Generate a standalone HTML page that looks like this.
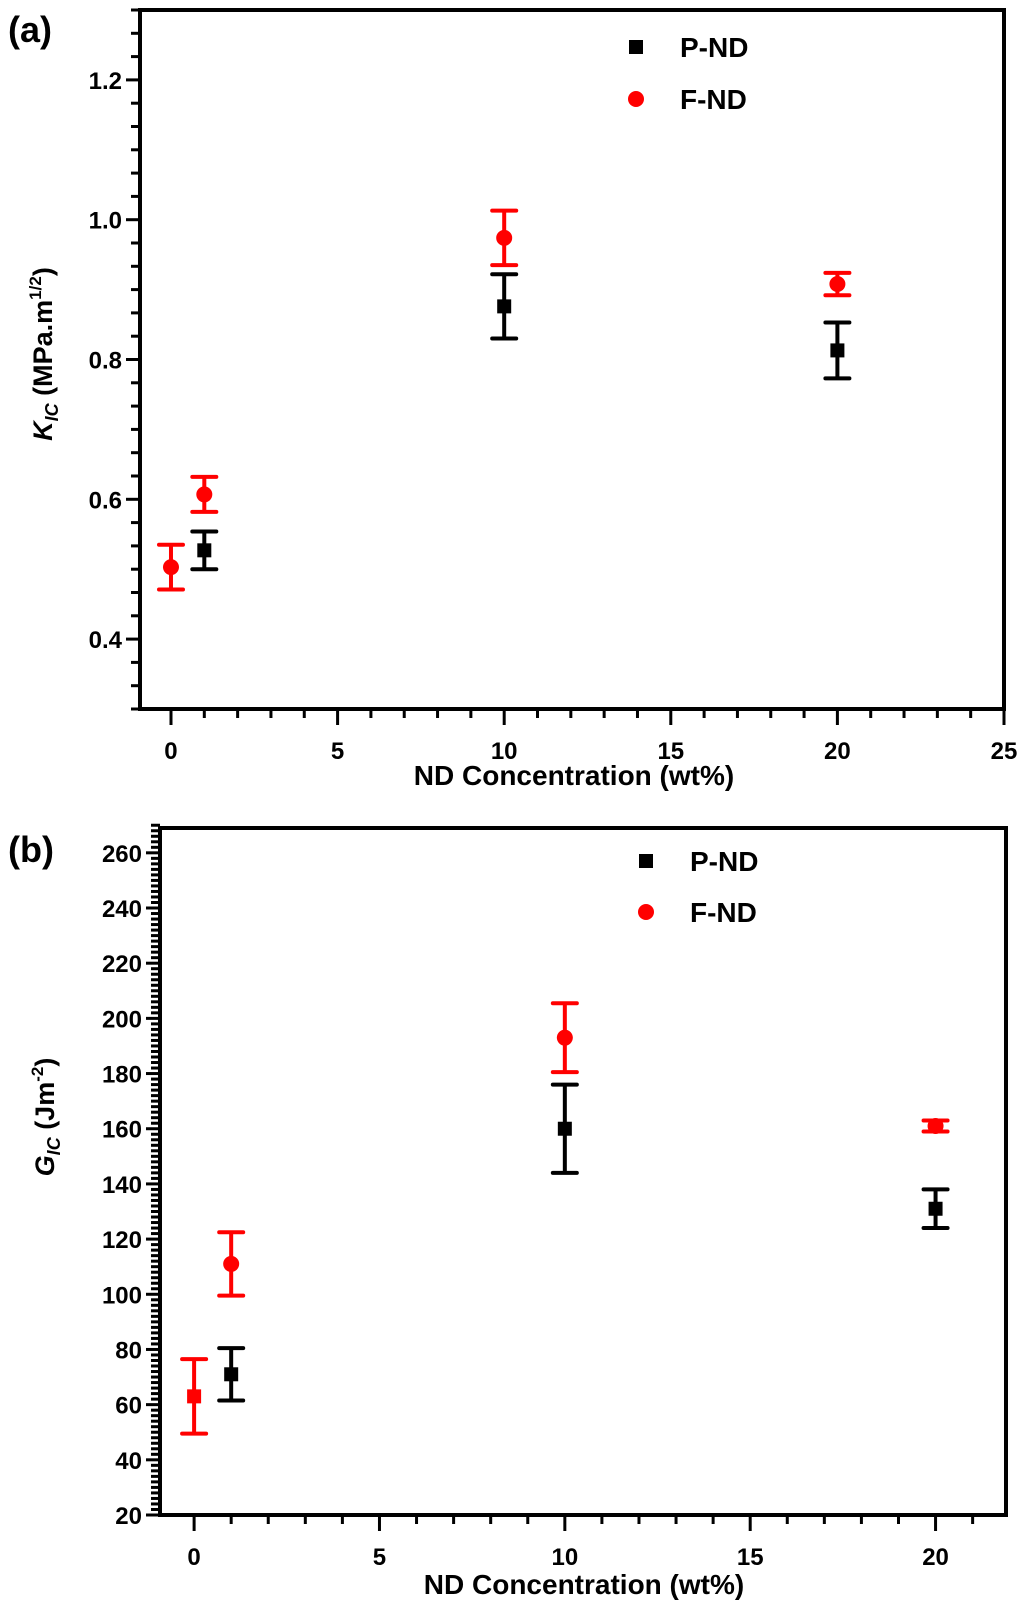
<!DOCTYPE html>
<html><head><meta charset="utf-8"><style>
html,body{margin:0;padding:0;background:#fff;}
svg text{font-family:"Liberation Sans",Arial,sans-serif;font-weight:bold;}
</style></head><body>
<svg id="fig" width="1024" height="1606" viewBox="0 0 1024 1606" xmlns="http://www.w3.org/2000/svg">
<text x="8" y="42" font-size="36">(a)</text>
<text x="8" y="862" font-size="36">(b)</text>
<text transform="translate(52,354) rotate(-90)" text-anchor="middle" font-size="27"><tspan font-style="italic">K</tspan><tspan font-style="italic" font-size="18" dy="6">IC</tspan><tspan dy="-6"> (MPa.m</tspan><tspan font-size="17" dy="-11">1/2</tspan><tspan dy="11">)</tspan></text>
<text transform="translate(54,1117) rotate(-90)" text-anchor="middle" font-size="27"><tspan font-style="italic">G</tspan><tspan font-style="italic" font-size="18" dy="6">IC</tspan><tspan dy="-6"> (Jm</tspan><tspan font-size="17" dy="-11">-2</tspan><tspan dy="11">)</tspan></text>
<text x="574" y="785" text-anchor="middle" font-size="28">ND Concentration (wt%)</text>
<text x="584" y="1594" text-anchor="middle" font-size="28">ND Concentration (wt%)</text>
</svg>
<script>
// Panel (a) data: K_IC
const aPX = [1, 10, 20];
const aPY = [0.527, 0.876, 0.813];
const aPE = [0.027, 0.046, 0.040];
const aFX = [0, 1, 10, 20];
const aFY = [0.503, 0.607, 0.974, 0.908];
const aFE = [0.032, 0.025, 0.039, 0.016];
const aXTicks = [0, 5, 10, 15, 20, 25];
const aYTicks = [0.4, 0.6, 0.8, 1.0, 1.2];
// Panel (b) data: G_IC
const bPX = [1, 10, 20];
const bPY = [71, 160, 131];
const bPE = [9.5, 16, 7];
const bFX = [0, 1, 10, 20];
const bFY = [63, 111, 193, 161];
const bFE = [13.5, 11.5, 12.5, 2];
const bXTicks = [0, 5, 10, 15, 20];
const bYTicks = [20, 40, 60, 80, 100, 120, 140, 160, 180, 200, 220, 240, 260];

const svg = document.getElementById('fig');
const NS = 'http://www.w3.org/2000/svg';
function mk(tag, attrs) { const e = document.createElementNS(NS, tag); for (const k in attrs) e.setAttribute(k, attrs[k]); svg.appendChild(e); return e; }

function panel(p, X, Y, xt, yt, yMinorStep, yFmt, series, legend) {
  const sx = v => p.l + (v - X[0]) / (X[1] - X[0]) * (p.r - p.l);
  const sy = v => p.b - (v - Y[0]) / (Y[1] - Y[0]) * (p.b - p.t);
  const box = mk('rect', {x: p.l, y: p.t, width: p.r - p.l, height: p.b - p.t, fill: 'none', stroke: '#000', 'stroke-width': 4});
  
  
  for (let v = Math.ceil(X[0]); v <= X[1] + 1e-6; v++) {
    const major = xt.includes(v);
    const t = mk('line', {x1: sx(v), x2: sx(v), y1: p.b, y2: p.b + (major ? 16 : 9), stroke: '#000', 'stroke-width': 3});
    
    
  }
  xt.forEach(v => {
    const t = mk('text', {x: sx(v), y: p.b + 50, 'text-anchor': 'middle', 'font-size': 24});
    t.textContent = v;
    
    
  });
  const n = Math.round((Y[1] - Y[0]) / yMinorStep);
  for (let i = 0; i <= n; i++) {
    const v = Y[0] + i * yMinorStep;
    const major = yt.some(m => Math.abs(m - v) < yMinorStep / 3);
    const t = mk('line', {x1: p.l - (major ? 14 : 9), x2: p.l, y1: sy(v), y2: sy(v), stroke: '#000', 'stroke-width': 3});
    
    
  }
  yt.forEach(v => {
    const t = mk('text', {x: p.l - 18, y: sy(v) + 9, 'text-anchor': 'end', 'font-size': 24});
    t.textContent = yFmt(v);
    
    
  });
  series.forEach(s => {
    s.x.forEach((xv, i) => {
      const cx = sx(xv), yv = s.y[i], e = s.e[i];
      const g = mk('g', {stroke: s.c, 'stroke-width': 4, fill: s.c});
      
      
      const add = (tag, a) => { const el = document.createElementNS(NS, tag); for (const k in a) el.setAttribute(k, a[k]); g.appendChild(el); };
      add('line', {x1: cx, x2: cx, y1: sy(yv + e), y2: sy(yv - e)});
      add('line', {x1: cx - 12, x2: cx + 12, y1: sy(yv + e), y2: sy(yv + e), 'stroke-linecap': 'round'});
      add('line', {x1: cx - 12, x2: cx + 12, y1: sy(yv - e), y2: sy(yv - e), 'stroke-linecap': 'round'});
      const sq = s.sq || (s.sqAt && s.sqAt.includes(xv));
      if (sq) add('rect', {x: cx - 7, y: sy(yv) - 7, width: 14, height: 14, stroke: 'none'});
      else add('circle', {cx: cx, cy: sy(yv), r: 8, stroke: 'none'});
    });
  });
  legend.forEach(L => {
    let m;
    if (L.sq) m = mk('rect', {x: L.x - 7, y: L.y - 7, width: 14, height: 14, fill: L.c});
    else m = mk('circle', {cx: L.x, cy: L.y, r: 8, fill: L.c});
    
    
    const t = mk('text', {x: L.x + 44, y: L.y + 10, 'font-size': 28});
    t.textContent = L.t;
    
    
  });
}

panel({id: 'panel-a', l: 140, r: 1004, t: 10, b: 709}, [-0.93, 25], [0.3, 1.3], aXTicks, aYTicks, 1 / 30,
  v => v.toFixed(1),
  [{name: 'p-nd', x: aPX, y: aPY, e: aPE, c: '#000', sq: true},
   {name: 'f-nd', x: aFX, y: aFY, e: aFE, c: '#ff0000', sq: false}],
  [{x: 636, y: 47, c: '#000', sq: true, t: 'P-ND'}, {x: 636, y: 99, c: '#ff0000', sq: false, t: 'F-ND'}]);

panel({id: 'panel-b', l: 160, r: 1006, t: 828, b: 1515}, [-0.92, 21.9], [20, 269], bXTicks, bYTicks, 2,
  v => String(v),
  [{name: 'p-nd', x: bPX, y: bPY, e: bPE, c: '#000', sq: true},
   {name: 'f-nd', x: bFX, y: bFY, e: bFE, c: '#ff0000', sq: false, sqAt: [0]}],
  [{x: 646, y: 861, c: '#000', sq: true, t: 'P-ND'}, {x: 646, y: 912, c: '#ff0000', sq: false, t: 'F-ND'}]);
</script>
</body></html>
